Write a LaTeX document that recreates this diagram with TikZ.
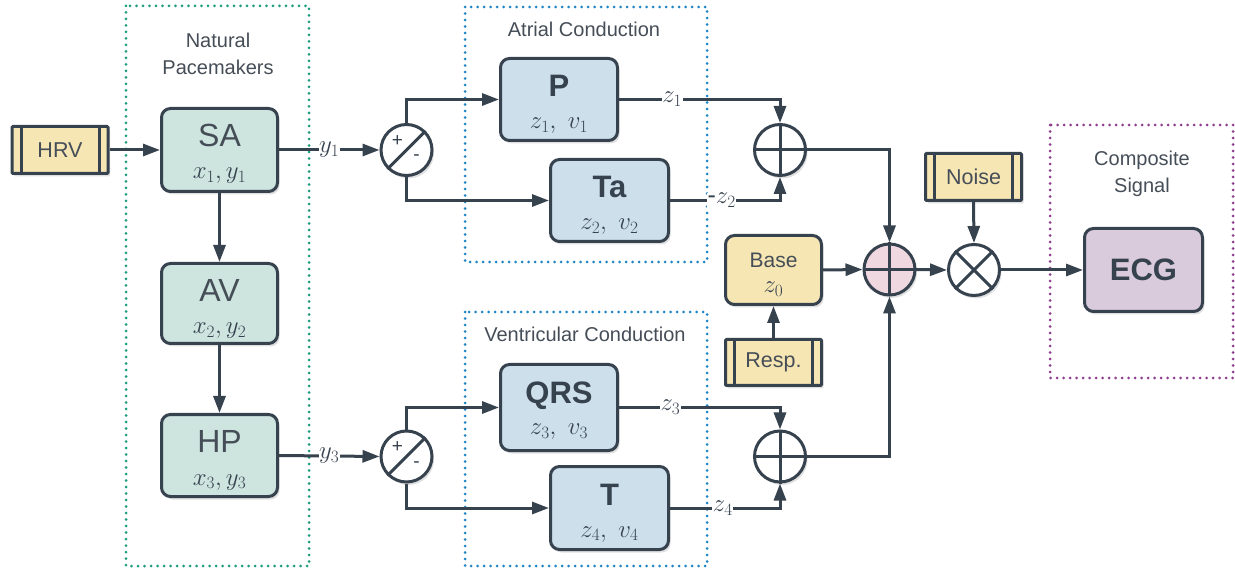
\documentclass[tikz,border=0pt]{standalone}
\usepackage{fontspec}
\setmainfont{Liberation Sans}
\usetikzlibrary{arrows.meta,shadows,calc}
\definecolor{ink}{HTML}{37424F}
\definecolor{txtgray}{HTML}{454D57}
\definecolor{tealf}{HTML}{CDE4DF}
\definecolor{bluef}{HTML}{CEDFEC}
\definecolor{yelf}{HTML}{F6E6B4}
\definecolor{pinkf}{HTML}{F0D8E1}
\definecolor{lilacf}{HTML}{D9CBDB}
\definecolor{greend}{HTML}{1E9A7C}
\definecolor{blued}{HTML}{2185C5}
\definecolor{purpled}{HTML}{8E3C8E}
\newcommand\mkblock[8]{%
  \node[blk,fill=#5,minimum width=#3,minimum height=#4] (#1) at (#2) {};
  \node[#8,anchor=base] (#1t) at ($(#1.north)+(0,40)$) {#6};
  \node[subtxt,anchor=base] (#1s) at ($(#1.north)+(0,72)$) {#7};
}
\begin{document}
\begin{tikzpicture}[x=1pt,y=-1pt,
  wire/.style={draw=ink,line width=3pt},
  arr/.style={draw=ink,line width=3pt,-{Triangle[length=17pt,width=12pt]}},
  shad/.style={drop shadow={shadow xshift=2pt,shadow yshift=-3pt,opacity=0.12,fill=black}},
  blk/.style={draw=ink,line width=3pt,rounded corners=9pt,inner sep=0pt,shad},
  srcbox/.style={draw=ink,line width=3pt,fill=yelf,rounded corners=1pt,inner sep=0pt,
    minimum width=96pt,minimum height=47pt,text=txtgray,font=\fontsize{21.5}{24}\selectfont,shad,
    path picture={\draw[ink,line width=3pt]
      ([xshift=9pt]path picture bounding box.north west) -- ([xshift=9pt]path picture bounding box.south west)
      ([xshift=-9pt]path picture bounding box.north east) -- ([xshift=-9pt]path picture bounding box.south east);}},
  circ/.style={circle,draw=ink,line width=3pt,fill=white,minimum size=51pt,inner sep=0pt,shad},
  grp/.style={line width=3pt,line cap=round,dash pattern=on 0pt off 6.5pt},
  lbl/.style={fill=white,inner sep=0.6pt,text=ink,font=\fontsize{25}{25}\selectfont},
  ttlreg/.style={inner sep=0pt,text=txtgray,font=\fontsize{32}{32}\selectfont},
  ttlbold/.style={inner sep=0pt,text=ink,font=\fontsize{31}{31}\selectfont\bfseries},
  subtxt/.style={inner sep=0pt,text=ink,font=\fontsize{26}{26}\selectfont},
  gtitle/.style={inner sep=0pt,text=txtgray,font=\fontsize{20}{27}\selectfont,align=center},
  sign/.style={inner sep=0pt,text=ink,font=\fontsize{19}{19}\selectfont}
]
\useasboundingbox (0,0) rectangle (1235,569);

% groups
\draw[grp,draw=greend] (126,6) rectangle (309,566);
\draw[grp,draw=blued] (465,7) rectangle (707,262);
\draw[grp,draw=blued] (465,312) rectangle (707,566);
\draw[grp,draw=purpled] (1050,125) rectangle (1233,378);
\node[gtitle,anchor=base] (gNP) at (218,75) {Natural\\Pacemakers};
\node[gtitle,anchor=base] (gAC) at (584,37) {Atrial Conduction};
\node[gtitle,anchor=base] (gVC) at (585,342) {Ventricular Conduction};
\node[gtitle,anchor=base] (gCS) at (1142,193) {Composite\\Signal};

% blocks
\mkblock{SA}{219.5,150}{116pt}{83pt}{tealf}{SA}{$x_1, y_1$}{ttlreg}
\mkblock{AV}{219.5,303.5}{116pt}{80pt}{tealf}{AV}{$x_2, y_2$}{ttlreg}
\mkblock{HP}{219.5,455.5}{116pt}{82pt}{tealf}{HP}{$x_3, y_3$}{ttlreg}
\mkblock{P}{559,99.5}{117pt}{82pt}{bluef}{P}{$z_1,\ v_1$}{ttlbold}
\mkblock{Ta}{609.5,200.5}{118pt}{82pt}{bluef}{Ta}{$z_2,\ v_2$}{ttlbold}
\mkblock{QRS}{559,407.5}{117pt}{86pt}{bluef}{QRS}{$z_3,\ v_3$}{ttlbold}
\mkblock{T}{609.5,508}{118pt}{83pt}{bluef}{T}{$z_4,\ v_4$}{ttlbold}

\node[blk,fill=yelf,minimum width=96pt,minimum height=69pt] (Base) at (773.5,270) {};
\node[inner sep=0pt,text=txtgray,font=\fontsize{21}{21}\selectfont,anchor=base] (Baset) at ($(Base.north)+(0,34)$) {Base};
\node[subtxt,anchor=base] (Bases) at ($(Base.north)+(0,59)$) {$z_0$};

\node[blk,fill=lilacf,minimum width=118pt,minimum height=83pt] (ECG) at (1143.5,270) {};
\node[ttlbold,anchor=base] (ECGt) at ($(ECG.center)+(0,11)$) {ECG};

\node[srcbox] (HRV) at (60,150) {HRV};
\node[srcbox,minimum height=46pt] (Resp) at (773.5,362.5) {Resp.};
\node[srcbox] (Noise) at (973.5,177) {Noise};

% operators
\node[circ] (sub1) at (406.5,150) {};
\draw[wire] (sub1.south west) -- (sub1.north east);
\node[sign] at ($(sub1.center)+(-9,-9)$) {+};
\node[sign] at ($(sub1.center)+(10,8)$) {-};
\node[circ] (sub2) at (406.5,456.5) {};
\draw[wire] (sub2.south west) -- (sub2.north east);
\node[sign] at ($(sub2.center)+(-9,-9)$) {+};
\node[sign] at ($(sub2.center)+(10,8)$) {-};

\node[circ] (sum1) at (780,150) {};
\draw[wire] (sum1.north) -- (sum1.south) (sum1.west) -- (sum1.east);
\node[circ] (sum2) at (780,456.5) {};
\draw[wire] (sum2.north) -- (sum2.south) (sum2.west) -- (sum2.east);
\node[circ,fill=pinkf] (main) at (889.5,269.5) {};
\draw[wire] (main.north) -- (main.south) (main.west) -- (main.east);
\node[circ] (mult) at (974,270) {};
\draw[wire] (mult.north west) -- (mult.south east) (mult.north east) -- (mult.south west);

% connectors
\draw[arr] (HRV.east) -- (SA.west);
\draw[arr] (SA.south) -- (AV.north);
\draw[arr] (AV.south) -- (HP.north);
\draw[arr] (SA.east) -- node[lbl,pos=0.5] (ly1) {$y_1$} (sub1.west);
\draw[arr] (HP.east) -- node[lbl,pos=0.5] (ly3) {$y_3$} (sub2.west);
\draw[arr] (sub1.north) |- (P.west);
\draw[arr] (sub1.south) |- (Ta.west);
\draw[arr] (sub2.north) |- (QRS.west);
\draw[arr] (sub2.south) |- (T.west);
\draw[arr] (P.east) -- node[lbl,pos=0.33] (lz1) {$z_1$} (sum1 |- P.east) -- (sum1.north);
\draw[arr] (Ta.east) -- node[lbl,pos=0.47] (lz2) {-$z_2$} (sum1 |- Ta.east) -- (sum1.south);
\draw[arr] (QRS.east) -- node[lbl,pos=0.32] (lz3) {$z_3$} (sum2 |- QRS.east) -- (sum2.north);
\draw[arr] (T.east) -- node[lbl,pos=0.48] (lz4) {$z_4$} (sum2 |- T.east) -- (sum2.south);
\draw[arr] (sum1.east) -| (main.north);
\draw[arr] (sum2.east) -| (main.south);
\draw[arr] (Base.east) -- (main.west);
\draw[arr] (Resp.north) -- (Base.south);
\draw[arr] (main.east) -- (mult.west);
\draw[arr] (Noise.south) -- (mult.north);
\draw[arr] (mult.east) -- (ECG.west);
\end{tikzpicture}
\end{document}
